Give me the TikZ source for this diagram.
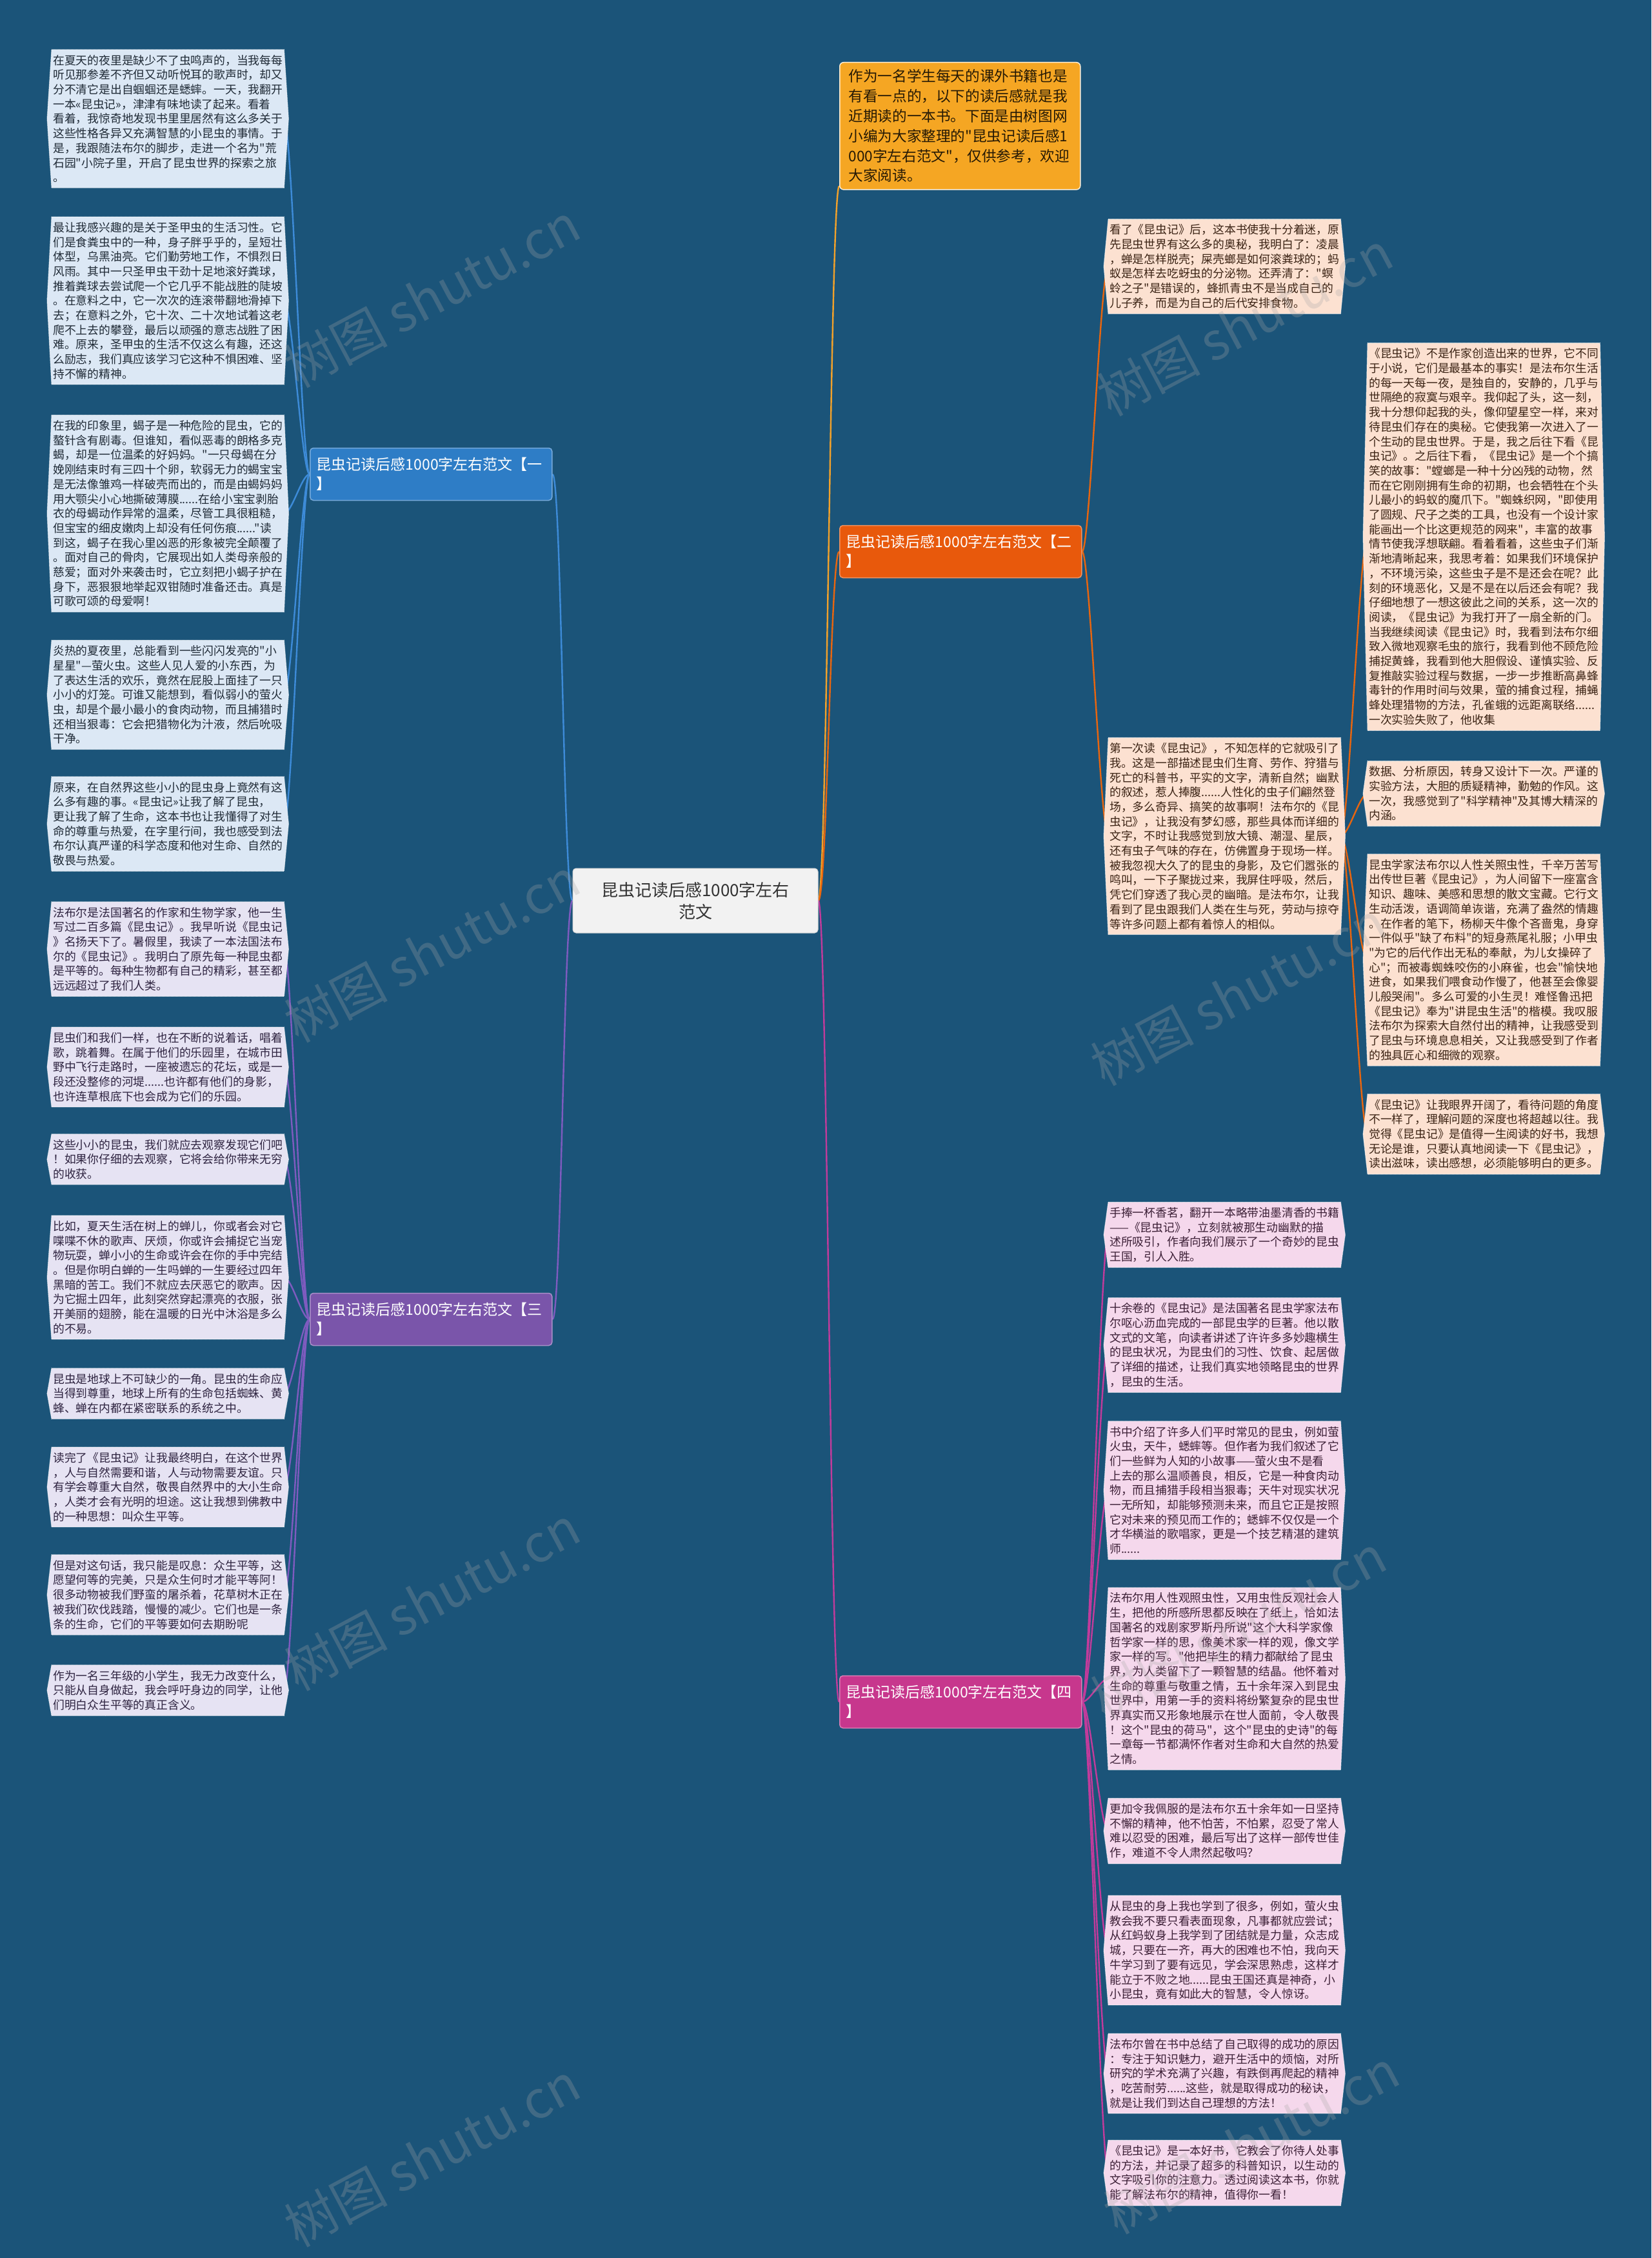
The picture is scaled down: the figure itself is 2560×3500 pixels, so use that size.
\documentclass[tikz,border=0pt]{standalone}
\usepackage{fontspec}
\setmainfont{Noto Sans CJK SC}[Ligatures=TeXOff]
\pgfdeclarelayer{bg}\pgfdeclarelayer{lines}\pgfdeclarelayer{back}
\pgfsetlayers{bg,lines,back,main}
\definecolor{bgc}{HTML}{1B5479}
\definecolor{cA}{HTML}{DCE8F5}\definecolor{tA}{HTML}{1F2A36}
\definecolor{cB}{HTML}{FCE1D1}\definecolor{tB}{HTML}{3B2314}
\definecolor{cC}{HTML}{E6E3F3}\definecolor{tC}{HTML}{2E2340}
\definecolor{cD}{HTML}{F5D8EC}\definecolor{tD}{HTML}{3C1F36}
\definecolor{lA}{HTML}{3D8BD8}\definecolor{lB}{HTML}{E8650F}
\definecolor{lC}{HTML}{7E5BBF}\definecolor{lD}{HTML}{C13B9B}
\definecolor{lG}{HTML}{F2A12A}
\definecolor{fA}{HTML}{2E7DC6}\definecolor{fB}{HTML}{E8590C}
\definecolor{fC}{HTML}{7A55AA}\definecolor{fD}{HTML}{C7378D}
\definecolor{fG}{HTML}{F5A623}
\tikzset{
  leaftext/.style={anchor=west, inner xsep=2pt, inner ysep=8pt, text width=356pt,
    align=left, font=\fontsize{17.8pt}{22.7pt}\selectfont},
  A text/.style={text=tA}, B text/.style={text=tB},
  C text/.style={text=tC}, D text/.style={text=tD},
  A shape/.style={fill=cA, draw=white, densely dotted, line width=1pt},
  B shape/.style={fill=cB, draw=white, densely dotted, line width=1pt},
  C shape/.style={fill=cC, draw=white, densely dotted, line width=1pt},
  D shape/.style={fill=cD, draw=white, densely dotted, line width=1pt},
  branch/.style={anchor=west, rounded corners=5pt, minimum height=81pt, text width=355pt,
    inner xsep=10pt, align=left, text=white, line width=1.5pt,
    font=\fontsize{23pt}{30pt}\selectfont},
  conn/.style={line width=2.4pt},
  wm/.style={rotate=28, text=gray!70, opacity=0.28, font=\fontsize{80pt}{80pt}\selectfont},
}
\newcommand\leafshape[2]{%
  \begin{pgfonlayer}{back}
  \path[#2] (#1.north west) -- (#1.north east) -- ([xshift=7pt]#1.east) -- (#1.south east)
    -- (#1.south west) -- ([xshift=-7pt]#1.west) -- cycle;
  \end{pgfonlayer}}
\newcommand\leaf[5]{%
  \node[leaftext, #4 text] (#1) at (#2,#3) {#5};
  \leafshape{#1}{#4 shape}}
\begin{document}
\begin{tikzpicture}[x=1pt,y=-1pt]
\begin{pgfonlayer}{bg}
\fill[bgc] (0,0) rectangle (2560,3500);
\end{pgfonlayer}
\path[use as bounding box] (0,0) rectangle (2560,3500);

% centre
\node[rounded corners=5pt, fill=black!5, draw=black!15, line width=1pt, minimum width=380pt,
  minimum height=100pt, align=center, text=black!80, font=\fontsize{26pt}{34pt}\selectfont]
  (root) at (1078,1396) {昆虫记读后感1000字左右\\范文};

% intro
\node[anchor=north west, rounded corners=6pt, fill=fG, draw=white!80!fG, line width=1.5pt,
  text width=345pt, inner xsep=14pt, inner ysep=11pt, align=left, text=black!85!fG,
  font=\fontsize{22.6pt}{30.8pt}\selectfont] (intro) at (1301,96)
  {作为一名学生每天的课外书籍也是\\有看一点的，以下的读后感就是我\\近期读的一本书。下面是由树图网\\小编为大家整理的"昆虫记读后感1\\000字左右范文"，仅供参考，欢迎\\大家阅读。};

% branch labels
\node[branch, fill=fA, draw=white!35!fA] (b1) at (480,735) {昆虫记读后感1000字左右范文【一\\】};
\node[branch, fill=fB, draw=white!35!fB] (b2) at (1301,855) {昆虫记读后感1000字左右范文【二\\】};
\node[branch, fill=fC, draw=white!35!fC] (b3) at (480,2045) {昆虫记读后感1000字左右范文【三\\】};
\node[branch, fill=fD, draw=white!35!fD] (b4) at (1301,2638) {昆虫记读后感1000字左右范文【四\\】};

% branch 1 leaves
\leaf{L1}{80}{184}{A}{在夏天的夜里是缺少不了虫鸣声的，当我每每\\听见那参差不齐但又动听悦耳的歌声时，却又\\分不清它是出自蝈蝈还是蟋蟀。一天，我翻开\\一本«昆虫记»，津津有味地读了起来。看着\\看着，我惊奇地发现书里里居然有这么多关于\\这些性格各异又充满智慧的小昆虫的事情。于\\是，我跟随法布尔的脚步，走进一个名为"荒\\石园"小院子里，开启了昆虫世界的探索之旅\\。}
\leaf{L2}{80}{466}{A}{最让我感兴趣的是关于圣甲虫的生活习性。它\\们是食粪虫中的一种，身子胖乎乎的，呈短壮\\体型，乌黑油亮。它们勤劳地工作，不惧烈日\\风雨。其中一只圣甲虫干劲十足地滚好粪球，\\推着粪球去尝试爬一个它几乎不能战胜的陡坡\\。在意料之中，它一次次的连滚带翻地滑掉下\\去；在意料之外，它十次、二十次地试着这老\\爬不上去的攀登，最后以顽强的意志战胜了困\\难。原来，圣甲虫的生活不仅这么有趣，还这\\么励志，我们真应该学习它这种不惧困难、坚\\持不懈的精神。}
\leaf{L3}{80}{796}{A}{在我的印象里，蝎子是一种危险的昆虫，它的\\螯针含有剧毒。但谁知，看似恶毒的朗格多克\\蝎，却是一位温柔的好妈妈。"一只母蝎在分\\娩刚结束时有三四十个卵，软弱无力的蝎宝宝\\是无法像雏鸡一样破壳而出的，而是由蝎妈妈\\用大颚尖小心地撕破薄膜......在给小宝宝剥胎\\衣的母蝎动作异常的温柔，尽管工具很粗糙，\\但宝宝的细皮嫩肉上却没有任何伤痕......"读\\到这，蝎子在我心里凶恶的形象被完全颠覆了\\。面对自己的骨肉，它展现出如人类母亲般的\\慈爱；面对外来袭击时，它立刻把小蝎子护在\\身下，恶狠狠地举起双钳随时准备还击。真是\\可歌可颂的母爱啊！}
\leaf{L4}{80}{1077}{A}{炎热的夏夜里，总能看到一些闪闪发亮的"小\\星星"—萤火虫。这些人见人爱的小东西，为\\了表达生活的欢乐，竟然在屁股上面挂了一只\\小小的灯笼。可谁又能想到，看似弱小的萤火\\虫，却是个最小最小的食肉动物，而且捕猎时\\还相当狠毒：它会把猎物化为汁液，然后吮吸\\干净。}
\leaf{L5}{80}{1277}{A}{原来，在自然界这些小小的昆虫身上竟然有这\\么多有趣的事。«昆虫记»让我了解了昆虫，\\更让我了解了生命，这本书也让我懂得了对生\\命的尊重与热爱，在字里行间，我也感受到法\\布尔认真严谨的科学态度和他对生命、自然的\\敬畏与热爱。}

% branch 3 leaves
\leaf{L6}{80}{1471}{C}{法布尔是法国著名的作家和生物学家，他一生\\写过二百多篇《昆虫记》。我早听说《昆虫记\\》名扬天下了。暑假里，我读了一本法国法布\\尔的《昆虫记》。我明白了原先每一种昆虫都\\是平等的。每种生物都有自己的精彩，甚至都\\远远超过了我们人类。}
\leaf{L7}{80}{1654}{C}{昆虫们和我们一样，也在不断的说着话，唱着\\歌，跳着舞。在属于他们的乐园里，在城市田\\野中飞行走路时，一座被遗忘的花坛，或是一\\段还没整修的河堤......也许都有他们的身影，\\也许连草根底下也会成为它们的乐园。}
\leaf{L8}{80}{1797}{C}{这些小小的昆虫，我们就应去观察发现它们吧\\！如果你仔细的去观察，它将会给你带来无穷\\的收获。}
\leaf{L9}{80}{1980}{C}{比如，夏天生活在树上的蝉儿，你或者会对它\\喋喋不休的歌声、厌烦，你或许会捕捉它当宠\\物玩耍，蝉小小的生命或许会在你的手中完结\\。但是你明白蝉的一生吗蝉的一生要经过四年\\黑暗的苦工。我们不就应去厌恶它的歌声。因\\为它掘土四年，此刻突然穿起漂亮的衣服，张\\开美丽的翅膀，能在温暖的日光中沐浴是多么\\的不易。}
\leaf{L10}{80}{2160}{C}{昆虫是地球上不可缺少的一角。昆虫的生命应\\当得到尊重，地球上所有的生命包括蜘蛛、黄\\蜂、蝉在内都在紧密联系的系统之中。}
\leaf{L11}{80}{2305}{C}{读完了《昆虫记》让我最终明白，在这个世界\\，人与自然需要和谐，人与动物需要友谊。只\\有学会尊重大自然，敬畏自然界中的大小生命\\，人类才会有光明的坦途。这让我想到佛教中\\的一种思想：叫众生平等。}
\leaf{L12}{80}{2472}{C}{但是对这句话，我只能是叹息：众生平等，这\\愿望何等的完美，只是众生何时才能平等阿！\\很多动物被我们野蛮的屠杀着，花草树木正在\\被我们砍伐践踏，慢慢的减少。它们也是一条\\条的生命，它们的平等要如何去期盼呢}
\leaf{L13}{80}{2620}{C}{作为一名三年级的小学生，我无力改变什么，\\只能从自身做起，我会呼吁身边的同学，让他\\们明白众生平等的真正含义。}

% branch 2 leaves
\leaf{R1}{1718}{413}{B}{看了《昆虫记》后，这本书使我十分着迷，原\\先昆虫世界有这么多的奥秘，我明白了：凌晨\\，蝉是怎样脱壳；屎壳螂是如何滚粪球的；蚂\\蚁是怎样去吃蚜虫的分泌物。还弄清了："螟\\蛉之子"是错误的，蜂抓青虫不是当成自己的\\儿子养，而是为自己的后代安排食物。}
\leaf{R2}{1718}{1296}{B}{第一次读《昆虫记》，不知怎样的它就吸引了\\我。这是一部描述昆虫们生育、劳作、狩猎与\\死亡的科普书，平实的文字，清新自然；幽默\\的叙述，惹人捧腹......人性化的虫子们翩然登\\场，多么奇异、搞笑的故事啊！法布尔的《昆\\虫记》，让我没有梦幻感，那些具体而详细的\\文字，不时让我感觉到放大镜、潮湿、星辰，\\还有虫子气味的存在，仿佛置身于现场一样。\\被我忽视大久了的昆虫的身影，及它们嚣张的\\鸣叫，一下子聚拢过来，我屏住呼吸，然后，\\凭它们穿透了我心灵的幽暗。是法布尔，让我\\看到了昆虫跟我们人类在生与死，劳动与掠夺\\等许多问题上都有着惊人的相似。}
\leaf{F1}{2120}{832}{B}{《昆虫记》不是作家创造出来的世界，它不同\\于小说，它们是最基本的事实！是法布尔生活\\的每一天每一夜，是独自的，安静的，几乎与\\世隔绝的寂寞与艰辛。我仰起了头，这一刻，\\我十分想仰起我的头，像仰望星空一样，来对\\待昆虫们存在的奥秘。它使我第一次进入了一\\个生动的昆虫世界。于是，我之后往下看《昆\\虫记》。之后往下看，《昆虫记》是一个个搞\\笑的故事："螳螂是一种十分凶残的动物，然\\而在它刚刚拥有生命的初期，也会牺牲在个头\\儿最小的蚂蚁的魔爪下。"蜘蛛织网，"即使用\\了圆规、尺子之类的工具，也没有一个设计家\\能画出一个比这更规范的网来"，丰富的故事\\情节使我浮想联翩。看着看着，这些虫子们渐\\渐地清晰起来，我思考着：如果我们环境保护\\，不环境污染，这些虫子是不是还会在呢？此\\刻的环境恶化，又是不是在以后还会有呢？我\\仔细地想了一想这彼此之间的关系，这一次的\\阅读，《昆虫记》为我打开了一扇全新的门。\\当我继续阅读《昆虫记》时，我看到法布尔细\\致入微地观察毛虫的旅行，我看到他不顾危险\\捕捉黄蜂，我看到他大胆假设、谨慎实验、反\\复推敲实验过程与数据，一步一步推断高鼻蜂\\毒针的作用时间与效果，萤的捕食过程，捕蝇\\蜂处理猎物的方法，孔雀蛾的远距离联络......\\一次实验失败了，他收集}
\leaf{F2}{2120}{1230}{B}{数据、分析原因，转身又设计下一次。严谨的\\实验方法，大胆的质疑精神，勤勉的作风。这\\一次，我感觉到了"科学精神"及其博大精深的\\内涵。}
\leaf{F3}{2120}{1488}{B}{昆虫学家法布尔以人性关照虫性，千辛万苦写\\出传世巨著《昆虫记》，为人间留下一座富含\\知识、趣味、美感和思想的散文宝藏。它行文\\生动活泼，语调简单诙谐，充满了盎然的情趣\\。在作者的笔下，杨柳天牛像个吝啬鬼，身穿\\一件似乎"缺了布料"的短身燕尾礼服；小甲虫\\"为它的后代作出无私的奉献，为儿女操碎了\\心"；而被毒蜘蛛咬伤的小麻雀，也会"愉快地\\进食，如果我们喂食动作慢了，他甚至会像婴\\儿般哭闹"。多么可爱的小生灵！难怪鲁迅把\\《昆虫记》奉为"讲昆虫生活"的楷模。我叹服\\法布尔为探索大自然付出的精神，让我感受到\\了昆虫与环境息息相关，又让我感受到了作者\\的独具匠心和细微的观察。}
\leaf{F4}{2120}{1758}{B}{《昆虫记》让我眼界开阔了，看待问题的角度\\不一样了，理解问题的深度也将超越以往。我\\觉得《昆虫记》是值得一生阅读的好书，我想\\无论是谁，只要认真地阅读一下《昆虫记》，\\读出滋味，读出感想，必须能够明白的更多。}

% branch 4 leaves
\leaf{B1}{1718}{1914}{D}{手捧一杯香茗，翻开一本略带油墨清香的书籍\\——《昆虫记》，立刻就被那生动幽默的描\\述所吸引，作者向我们展示了一个奇妙的昆虫\\王国，引人入胜。}
\leaf{B2}{1718}{2085}{D}{十余卷的《昆虫记》是法国著名昆虫学家法布\\尔呕心沥血完成的一部昆虫学的巨著。他以散\\文式的文笔，向读者讲述了许许多多妙趣横生\\的昆虫状况，为昆虫们的习性、饮食、起居做\\了详细的描述，让我们真实地领略昆虫的世界\\，昆虫的生活。}
\leaf{B3}{1718}{2310}{D}{书中介绍了许多人们平时常见的昆虫，例如萤\\火虫，天牛，蟋蟀等。但作者为我们叙述了它\\们一些鲜为人知的小故事——萤火虫不是看\\上去的那么温顺善良，相反，它是一种食肉动\\物，而且捕猎手段相当狠毒；天牛对现实状况\\一无所知，却能够预测未来，而且它正是按照\\它对未来的预见而工作的；蟋蟀不仅仅是一个\\才华横溢的歌唱家，更是一个技艺精湛的建筑\\师......}
\leaf{B4}{1718}{2602}{D}{法布尔用人性观照虫性，又用虫性反观社会人\\生，把他的所感所思都反映在了纸上，恰如法\\国著名的戏剧家罗斯丹所说"这个大科学家像\\哲学家一样的思，像美术家一样的观，像文学\\家一样的写。"他把毕生的精力都献给了昆虫\\界，为人类留下了一颗智慧的结晶。他怀着对\\生命的尊重与敬重之情，五十余年深入到昆虫\\世界中，用第一手的资料将纷繁复杂的昆虫世\\界真实而又形象地展示在世人面前，令人敬畏\\！这个"昆虫的荷马"，这个"昆虫的史诗"的每\\一章每一节都满怀作者对生命和大自然的热爱\\之情。}
\leaf{B5}{1718}{2838}{D}{更加令我佩服的是法布尔五十余年如一日坚持\\不懈的精神，他不怕苦，不怕累，忍受了常人\\难以忍受的困难，最后写出了这样一部传世佳\\作，难道不令人肃然起敬吗？}
\leaf{B6}{1718}{3023}{D}{从昆虫的身上我也学到了很多，例如，萤火虫\\教会我不要只看表面现象，凡事都就应尝试；\\从红蚂蚁身上我学到了团结就是力量，众志成\\城，只要在一齐，再大的困难也不怕，我向天\\牛学习到了要有远见，学会深思熟虑，这样才\\能立于不败之地......昆虫王国还真是神奇，小\\小昆虫，竟有如此大的智慧，令人惊讶。}
\leaf{B7}{1718}{3214}{D}{法布尔曾在书中总结了自己取得的成功的原因\\：专注于知识魅力，避开生活中的烦恼，对所\\研究的学术充满了兴趣，有跌倒再爬起的精神\\，吃苦耐劳......这些，就是取得成功的秘诀，\\就是让我们到达自己理想的方法！}
\leaf{B8}{1718}{3368}{D}{《昆虫记》是一本好书，它教会了你待人处事\\的方法，并记录了超多的科普知识，以生动的\\文字吸引你的注意力。透过阅读这本书，你就\\能了解法布尔的精神，值得你一看！}

% connectors
\begin{pgfonlayer}{lines}
\draw[conn, lA] (root.west) .. controls +(-14,0) and +(14,0) .. (b1.east);
\draw[conn, lC] (root.west) .. controls +(-14,0) and +(14,0) .. (b3.east);
\draw[conn, lG] (root.east) .. controls +(14,0) and +(-14,0) .. ([yshift=6pt]intro.south west);
\draw[conn, lB] (root.east) .. controls +(14,0) and +(-14,0) .. (b2.west);
\draw[conn, lD] (root.east) .. controls +(14,0) and +(-14,0) .. (b4.west);
\foreach \n in {L1,L2,L3,L4,L5}
  \draw[conn, lA] (b1.west) .. controls +(-12,0) and +(12,0) .. (\n.east);
\foreach \n in {L6,L7,L8,L9,L10,L11,L12,L13}
  \draw[conn, lC] (b3.west) .. controls +(-12,0) and +(12,0) .. (\n.east);
\foreach \n in {R1,R2}
  \draw[conn, lB] (b2.east) .. controls +(12,0) and +(-12,0) .. (\n.west);
\foreach \n in {F1,F2,F3,F4}
  \draw[conn, lB] (R2.east) .. controls +(12,0) and +(-12,0) .. (\n.west);
\foreach \n in {B1,B2,B3,B4,B5,B6,B7,B8}
  \draw[conn, lD] (b4.east) .. controls +(12,0) and +(-12,0) .. (\n.west);
\end{pgfonlayer}

% watermarks
\node[wm] (w1) at (670,458) {树图 shutu.cn};
\node[wm] (w2) at (1930,502) {树图 shutu.cn};
\node[wm] (w3) at (670,1473) {树图 shutu.cn};
\node[wm] (w4) at (1920,1540) {树图 shutu.cn};
\node[wm] (w5) at (670,2478) {树图 shutu.cn};
\node[wm] (w6) at (1920,2522) {树图 shutu.cn};
\node[wm] (w7) at (670,3340) {树图 shutu.cn};
\node[wm] (w8) at (1940,3320) {树图 shutu.cn};
\end{tikzpicture}
\end{document}
